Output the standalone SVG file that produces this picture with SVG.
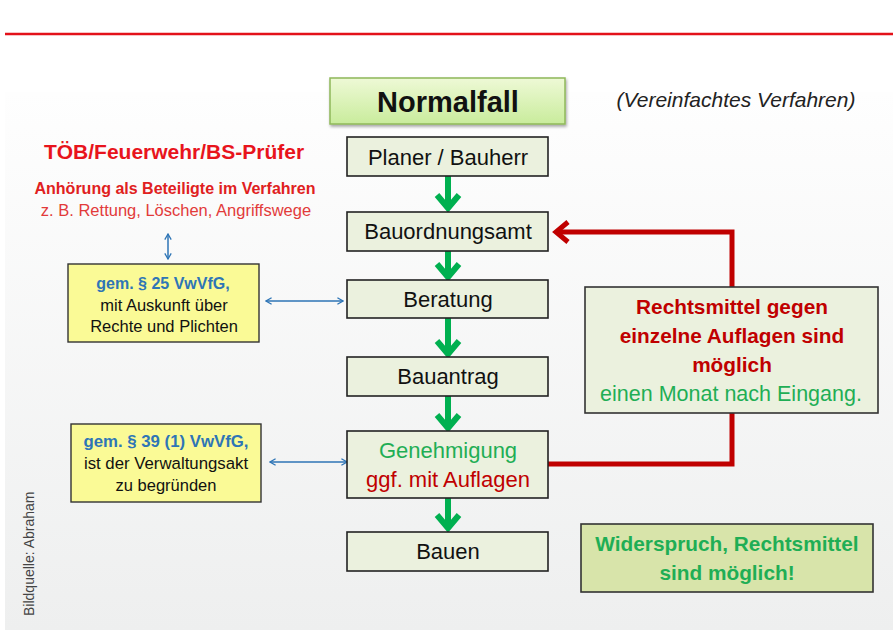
<svg xmlns="http://www.w3.org/2000/svg" width="893" height="630" viewBox="0 0 893 630">
<defs>
<linearGradient id="bg" x1="0" y1="0" x2="0" y2="1"><stop offset="0" stop-color="#fefefe"/><stop offset="1" stop-color="#eeefef"/></linearGradient>
<linearGradient id="nf" x1="0" y1="0" x2="0" y2="1"><stop offset="0" stop-color="#eef9d6"/><stop offset="1" stop-color="#c9ec9c"/></linearGradient>
<marker id="bh" viewBox="0 0 10 10" refX="9" refY="5" markerWidth="8" markerHeight="8" orient="auto-start-reverse" markerUnits="userSpaceOnUse"><path d="M2,1 L9,5 L2,9" fill="none" stroke="#2e75b6" stroke-width="1.6"/></marker>
<filter id="sh" x="-10%" y="-10%" width="130%" height="140%"><feDropShadow dx="1" dy="2" stdDeviation="1.5" flood-color="#000" flood-opacity="0.35"/></filter>
</defs>
<style>
text{font-family:"Liberation Sans",Arial,sans-serif}
.box{fill:#ebf1de;stroke:#222;stroke-width:1.6}
.yb{fill:#fafa96;stroke:#333;stroke-width:1.4}
.bt{font-size:22px;fill:#111;text-anchor:middle}
.yt{font-size:16.5px;fill:#111;text-anchor:middle}
.blue{fill:#2e75b6;font-weight:bold;font-size:16px}
.ga{stroke:#00b050;stroke-width:6;fill:none}
.red{stroke:#c00000;stroke-width:5;fill:none}
.bl{stroke:#2e75b6;stroke-width:1.5;fill:none}
</style>
<rect width="893" height="630" fill="#fff"/>
<rect x="5" y="92" width="888" height="538" fill="url(#bg)"/>
<line x1="5" y1="34" x2="893" y2="34" stroke="#e3111a" stroke-width="2.5"/>
<text x="34" y="616" font-size="14" fill="#444" transform="rotate(-90 34 616)">Bildquelle: Abraham</text>

<g id="connectors">
<path class="ga" d="M448,176 V209 M437,195 L448,208 L459,195"/>
<path class="ga" d="M448,251 V277 M437,264 L448,277 L459,264"/>
<path class="ga" d="M448,318 V354 M437,341 L448,354 L459,341"/>
<path class="ga" d="M448,396 V428 M437,415 L448,428 L459,415"/>
<path class="ga" d="M448,498 V528 M437,515 L448,528 L459,515"/>
<path class="red" d="M548,464 H732 V232 H556"/>
<path class="red" d="M568,222 L556,232 L568,242"/>
<line class="bl" x1="168" y1="234" x2="168" y2="259" marker-start="url(#bh)" marker-end="url(#bh)"/>
<line class="bl" x1="266" y1="301" x2="343" y2="301" marker-start="url(#bh)" marker-end="url(#bh)"/>
<line class="bl" x1="270" y1="462" x2="347" y2="462" marker-start="url(#bh)" marker-end="url(#bh)"/>
</g>

<g id="title">
<rect x="330" y="78" width="235" height="46" fill="url(#nf)" stroke="#8fb85a" stroke-width="1.5" filter="url(#sh)"/>
<text x="448" y="112" font-size="29" font-weight="bold" fill="#111" text-anchor="middle">Normalfall</text>
</g>
<text x="736" y="107" font-size="21" font-style="italic" fill="#222" text-anchor="middle">(Vereinfachtes Verfahren)</text>

<g id="toeb">
<text x="174" y="159" font-size="21" font-weight="bold" fill="#e8141c" text-anchor="middle">TÖB/Feuerwehr/BS-Prüfer</text>
<text x="175" y="194" font-size="16" font-weight="bold" fill="#e02020" text-anchor="middle">Anhörung als Beteiligte im Verfahren</text>
<text x="176" y="216" font-size="16.5" fill="#e23a3a" text-anchor="middle">z. B. Rettung, Löschen, Angriffswege</text>
</g>

<g id="vwvfg25">
<rect class="yb" x="68" y="264" width="191" height="78"/>
<text class="yt blue" x="163" y="289">gem. § 25 VwVfG,</text>
<text class="yt" x="164" y="311">mit Auskunft über</text>
<text class="yt" x="164" y="332">Rechte und Plichten</text>
</g>

<g id="vwvfg39">
<rect class="yb" x="71" y="424" width="190" height="78"/>
<text class="yt blue" x="166" y="447" style="font-size:16.8px">gem. § 39 (1) VwVfG,</text>
<text class="yt" x="166" y="469" style="font-size:16.8px">ist der Verwaltungsakt</text>
<text class="yt" x="166" y="491">zu begründen</text>
</g>

<g id="planer"><rect class="box" x="347" y="137" width="201" height="39"/><text class="bt" x="448" y="165">Planer / Bauherr</text></g>
<g id="bauordnungsamt"><rect class="box" x="347" y="212" width="201" height="39"/><text class="bt" x="448" y="239">Bauordnungsamt</text></g>
<g id="beratung"><rect class="box" x="347" y="280" width="201" height="38"/><text class="bt" x="448" y="307">Beratung</text></g>
<g id="bauantrag"><rect class="box" x="347" y="357" width="201" height="39"/><text class="bt" x="448" y="384">Bauantrag</text></g>
<g id="genehmigung"><rect class="box" x="347" y="431" width="201" height="67"/>
<text class="bt" x="448" y="458" style="fill:#1fae55">Genehmigung</text>
<text class="bt" x="448" y="487" style="fill:#c00000">ggf. mit Auflagen</text></g>
<g id="bauen"><rect class="box" x="347" y="532" width="201" height="39"/><text class="bt" x="448" y="559">Bauen</text></g>

<g id="rechtsmittel">
<rect x="585" y="287" width="293" height="126" fill="#ebf1de" stroke="#333" stroke-width="1.6"/>
<text x="732" y="314" font-size="20.8" font-weight="bold" fill="#c00000" text-anchor="middle">Rechtsmittel gegen</text>
<text x="732" y="343" font-size="20.8" font-weight="bold" fill="#c00000" text-anchor="middle">einzelne Auflagen sind</text>
<text x="732" y="372" font-size="20.8" font-weight="bold" fill="#c00000" text-anchor="middle">möglich</text>
<text x="731" y="401" font-size="21.5" fill="#1fae55" text-anchor="middle">einen Monat nach Eingang.</text>
</g>

<g id="widerspruch">
<rect x="581" y="524" width="292" height="68" fill="#d8e4aa" stroke="#333" stroke-width="1.6"/>
<text x="727" y="551" font-size="20.8" font-weight="bold" fill="#1fae55" text-anchor="middle">Widerspruch, Rechtsmittel</text>
<text x="727" y="580" font-size="20.8" font-weight="bold" fill="#1fae55" text-anchor="middle">sind möglich!</text>
</g>
</svg>
